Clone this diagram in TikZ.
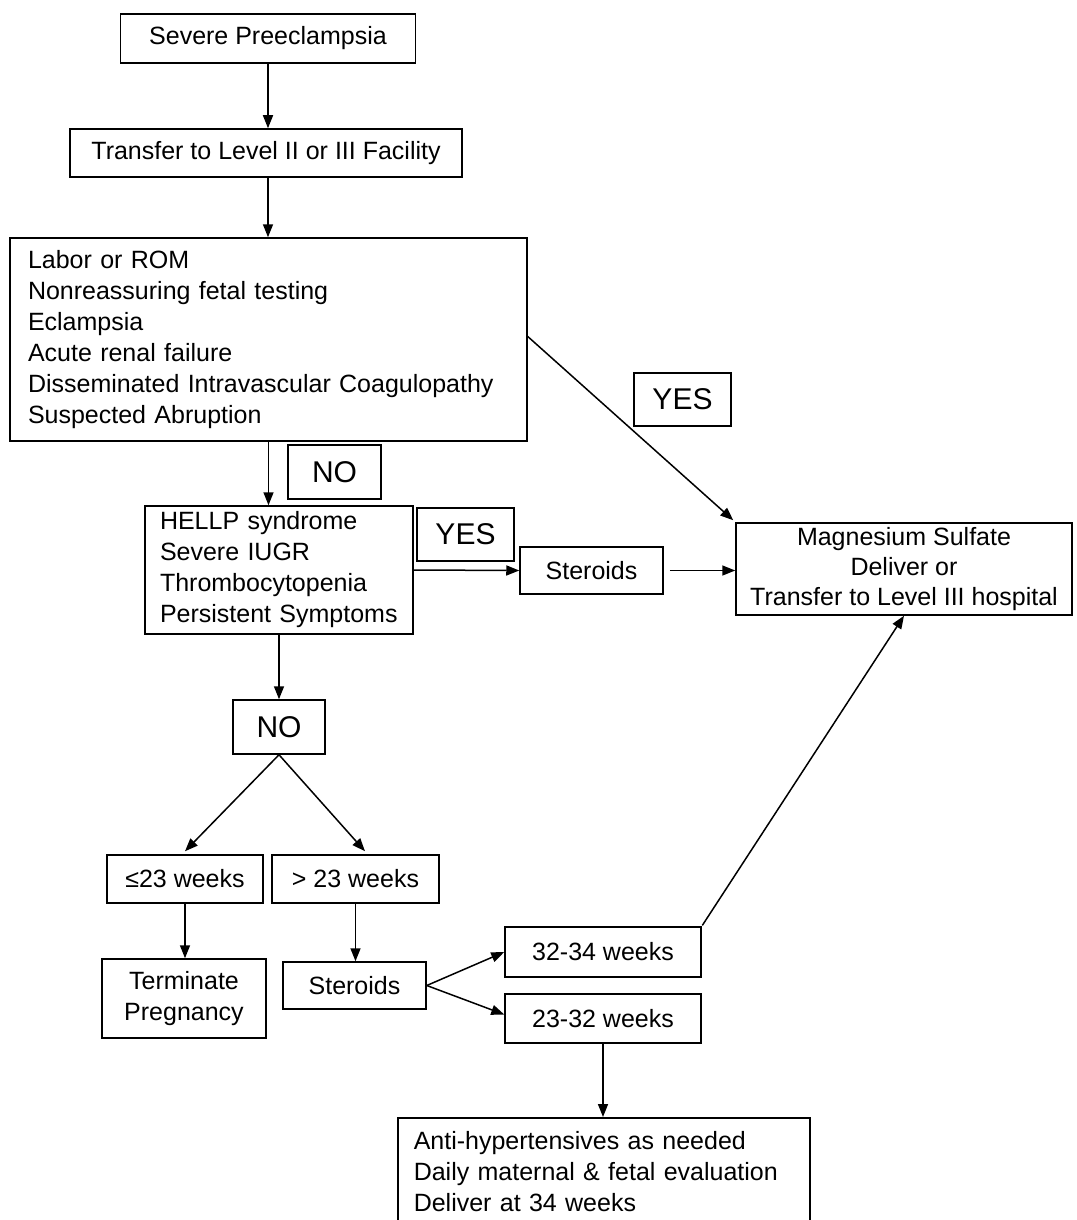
\documentclass[tikz,border=0pt]{standalone}
\usepackage{fontspec}
\setmainfont{Liberation Sans}
\usetikzlibrary{arrows.meta}
\begin{document}
\begin{tikzpicture}[x=1pt,y=-1pt,
  box/.style={draw, line width=1.5pt, inner sep=0pt, font=\fontsize{25}{31}\selectfont, align=center},
  lbox/.style={box, align=left},
  lab/.style={draw, line width=1.5pt, inner sep=0pt, font=\fontsize{30}{36}\selectfont},
  arr/.style={line width=1.5pt, -{Triangle[length=13pt,width=10pt]}}]
\useasboundingbox (0,0) rectangle (1076,1220);
\clip (0,0) rectangle (1076,1220);
\fill[white] (0,0) rectangle (1076,1220);

\node[box, minimum width=295pt, minimum height=49pt] (b1) at (268,38.5) {Severe Preeclampsia};
\node[box, minimum width=392pt, minimum height=48pt] (b2) at (266,153) {Transfer to Level II or III Facility};
\node[lbox, text width=481pt, minimum width=517pt, minimum height=203pt] (box3) at (268.5,339.5)
  {Labor or ROM\\Nonreassuring fetal testing\\Eclampsia\\Acute renal failure\\Disseminated Intravascular Coagulopathy\\Suspected Abruption};
\node[lab, minimum width=97pt, minimum height=53pt] (yes1) at (682.5,399.5) {YES};
\node[lab, minimum width=93pt, minimum height=54pt] (no1) at (334.5,472) {NO};
\node[lbox, text width=238pt, minimum width=268pt, minimum height=128pt] (hellp) at (279,570)
  {\mbox{HELLP syndrome}\\\mbox{Severe IUGR}\\\mbox{Thrombocytopenia}\\\mbox{Persistent Symptoms}};
\node[lab, minimum width=97pt, minimum height=53pt] (yes2) at (465.5,534.5) {YES};
\node[box, minimum width=143pt, minimum height=47pt] (st1) at (591.5,570.5) {Steroids};
\node[box, minimum width=336pt, minimum height=92pt, font=\fontsize{25}{30}\selectfont] (mg) at (904,569)
  {Magnesium Sulfate\\Deliver or\\Transfer to Level III hospital};
\node[lab, minimum width=92pt, minimum height=54pt] (no2) at (279,727) {NO};
\node[box, minimum width=156pt, minimum height=48pt] (le23) at (185,879) {≤23 weeks};
\node[box, minimum width=167pt, minimum height=48pt] (gt23) at (355.5,879) {> 23 weeks};
\node[box, minimum width=164pt, minimum height=79pt] (term) at (184,998.5) {Terminate\\Pregnancy};
\node[box, minimum width=143pt, minimum height=47pt] (st2) at (354.5,985.5) {Steroids};
\node[box, minimum width=196pt, minimum height=50pt] (w3234) at (603,952) {32-34 weeks};
\node[box, minimum width=196pt, minimum height=49pt] (w2332) at (603,1018.5) {23-32 weeks};
\node[lbox, anchor=north west, text width=380pt, minimum width=412pt, minimum height=108pt] (bot) at (397,1117)
  {Anti-hypertensives as needed\\Daily maternal \& fetal evaluation\\Deliver at 34 weeks};

\draw[arr] (b1.south) -- (b1.south |- b2.north);
\draw[arr] (b1.south |- b2.south) -- (b1.south |- box3.north);
\draw[arr] ([yshift=3pt]box3.east) -- ([xshift=-2pt,yshift=2pt]mg.north west);
\draw[arr] (box3.south) -- (box3.south |- hellp.north);
\draw[arr] (hellp.east) -- (st1.west);
\draw[arr, shorten <=6pt] (st1.east) -- (mg.west |- st1.east);
\draw[arr] (hellp.south) -- (no2.north);
\draw[arr] (no2.south) -- ([yshift=3pt]le23.north);
\draw[arr] (no2.south) -- ([xshift=9.5pt,yshift=3pt]gt23.north);
\draw[arr] (le23.south) -- (le23.south |- term.north);
\draw[arr] (gt23.south) -- (gt23.south |- st2.north);
\draw[arr] (st2.east) -- (w3234.west);
\draw[arr] (st2.east) -- ([yshift=4pt]w2332.west);
\draw[arr, shorten <=1pt] (w3234.north east) -- (mg.south);
\draw[arr] (w2332.south) -- (w2332.south |- bot.north);
\end{tikzpicture}
\end{document}
